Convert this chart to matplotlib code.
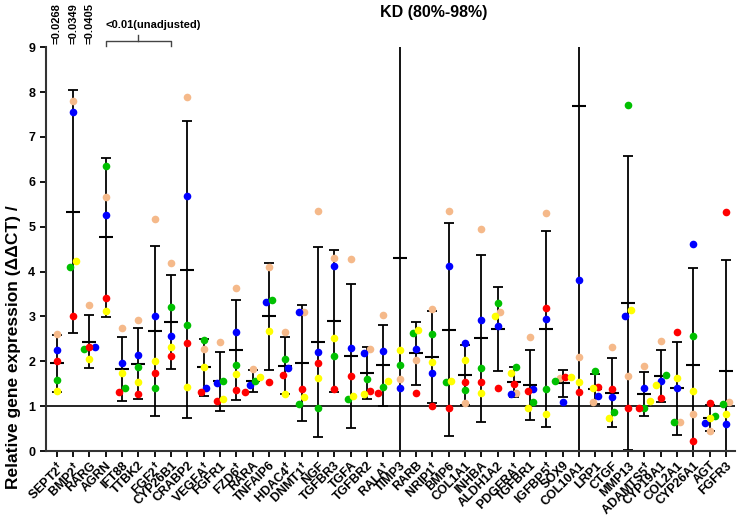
import numpy as np
import matplotlib
matplotlib.use("Agg")
from matplotlib import pyplot as plt
from matplotlib import transforms

plt.rcParams["font.family"] = ["Liberation Sans", "DejaVu Sans"]
plt.rcParams["font.weight"] = "bold"

genes = ["SEPT2", "BMP2", "RARG", "AGRN", "IFT88", "TTBK2", "FGF2", "CYP26B1",
         "CRABP2", "VEGFA", "FGFR1", "FZD6", "RARA", "TNFAIP6", "HDAC4", "DNMT1",
         "NGF", "TGFBR3", "TGFA", "TGFBR2", "RALA", "TIMP3", "RARB", "NRIP1",
         "BMP6", "COL1A1", "INHBA", "ALDH1A2", "PDGFRA", "TGFBR1", "IGFBP5", "SOX9",
         "COL10A1", "LRP1", "CTGF", "MMP13", "ADAMTS5", "CYP19A1", "COL2A1",
         "CYP26A1", "AGT", "FGFR3"]
dagger = ["SEPT2", "BMP2", "FGF2", "VEGFA", "FZD6", "HDAC4", "DNMT1", "RALA",
          "NRIP1", "PDGFRA", "IGFBP5", "ADAMTS5"]

# one value per donor / sample
peach = [2.62, 7.79, 3.26, 5.67, 2.75, 2.92, 5.18, 4.19, 7.88, 2.28, 2.43, 3.63,
         1.84, 4.10, 2.66, 3.10, 5.36, 4.31, 4.29, 2.27, 3.04, 1.61, 2.04, 3.16,
         5.34, 1.08, 4.94, 3.11, 1.30, 2.55, 5.31, 1.62, 2.09, 1.09, 2.31, 1.68,
         1.90, 2.45, 0.66, 0.83, 0.45, 1.09]
blue = [2.26, 7.55, 2.31, 5.25, 1.96, 2.14, 3.02, 2.57, 5.69, 1.41, 1.51, 2.66,
        1.47, 3.33, 1.85, 3.10, 2.20, 4.12, 2.29, 2.18, 2.23, 1.40, 2.27, 1.74,
        4.13, 2.42, 2.93, 2.79, 1.28, 1.39, 2.95, 1.09, 3.82, 1.22, 1.21, 3.00,
        1.40, 1.56, 1.41, 4.61, 0.62, 0.60]
green = [1.58, 4.11, 2.27, 6.35, 1.41, 1.87, 1.41, 3.21, 2.81, 2.47, 1.57, 1.91,
         1.56, 3.37, 2.06, 1.06, 0.97, 2.13, 1.16, 1.60, 1.44, 1.91, 2.63, 2.60,
         1.53, 1.37, 1.86, 3.30, 1.88, 1.09, 1.38, 1.57, 29.7, 1.79, 0.87, 7.72,
         0.97, 1.70, 0.64, 2.57, 0.78, 1.06]
red = [2.00, 3.00, 2.31, 3.42, 1.32, 1.27, 1.75, 2.11, 2.40, 1.32, 1.11, 1.36,
       1.31, 1.54, 1.70, 1.38, 1.97, 1.39, 1.67, 1.35, 1.30, 14.3, 1.29, 1.01,
       0.97, 1.55, 1.55, 1.41, 1.49, 1.35, 3.18, 1.65, 1.31, 1.44, 1.38, 0.97,
       0.97, 1.18, 2.65, 0.22, 1.07, 5.33]
yellow = [1.35, 4.23, 2.06, 3.12, 1.75, 1.53, 2.00, 2.32, 1.44, 1.88, 1.16, 1.71,
          1.66, 2.68, 1.27, 1.21, 1.64, 2.52, 1.22, 1.28, 1.56, 2.25, 2.69, 1.99,
          1.57, 2.04, 1.29, 3.00, 1.75, 0.97, 0.82, 1.66, 1.53, 1.41, 0.74, 3.15,
          1.12, 1.48, 1.63, 1.35, 0.75, 0.82]

series = [(peach, "#F5B98A"), (blue, "#0000FF"), (green, "#00C000"),
          (red, "#FF0000"), (yellow, "#FFFF00")]

p_values = ["=0.0268", "=0.0349", "=0.0405"]
bracket_text = "<0.01(unadjusted)"
title = "KD (80%-98%)"
ylabel = "Relative gene expression (\u0394\u0394CT) /"

T_975_DF4 = 2.776


def dodge(vals, thr=0.16, step=0.32):
    order = np.argsort(vals)
    offs = np.zeros(len(vals))
    groups = [[order[0]]]
    for a, b in zip(order[:-1], order[1:]):
        if vals[b] - vals[a] < thr:
            groups[-1].append(b)
        else:
            groups.append([b])
    for g in groups:
        k = len(g)
        for j, idx in enumerate(g):
            offs[idx] = (j - (k - 1) / 2) * step
    return offs


fig = plt.figure(figsize=(7.38, 5.18), dpi=100)
ax = fig.add_axes([0.062, 0.129, 0.934, 0.78])

data = np.array([s for s, _ in series])  # shape (5, n_genes)
x = np.arange(len(genes))
n = data.shape[0]
mean = data.mean(axis=0)
ci = T_975_DF4 * data.std(axis=0, ddof=1) / np.sqrt(n)

ax.errorbar(x, mean, yerr=ci, fmt="none", ecolor="black", elinewidth=1.3,
            capsize=3.5, capthick=1.3, zorder=2)
ax.plot(x, mean, linestyle="none", marker="_", markersize=10,
        markeredgewidth=1.5, color="black", zorder=2)

offsets = np.array([dodge(data[:, i]) for i in range(len(genes))]).T
for k, (vals, col) in enumerate(series):
    ax.plot(x + offsets[k], vals, linestyle="none", marker="o", markersize=5.5,
            markeredgewidth=0, color=col, zorder=3)

ax.axhline(1, color="black", linewidth=1.2, zorder=1)

ax.set_xlim(-0.67, 41.55)
ax.set_ylim(0, 9)
ax.set_yticks(range(0, 10))
ax.set_xticks(x)
labels = [g + ("$^{\\dagger}$" if g in dagger else "") for g in genes]
ax.set_xticklabels(labels, rotation=45, ha="right", rotation_mode="anchor",
                   fontsize=9, fontweight="bold")
ax.tick_params(axis="y", labelsize=9, width=1.3, length=4)
ax.tick_params(axis="x", width=1.3, length=4, pad=2)
for lab in ax.get_yticklabels():
    lab.set_fontweight("bold")
for side in ["top", "right"]:
    ax.spines[side].set_visible(False)
for side in ["left", "bottom"]:
    ax.spines[side].set_linewidth(1.5)
    ax.spines[side].set_color("#333333")

fig.text(0.018, 0.33, ylabel, rotation=90, ha="center", va="center",
         fontsize=12.5, fontweight="bold")
fig.text(0.587, 0.975, title, ha="center", va="center", fontsize=11.5,
         fontweight="bold")

trans = transforms.blended_transform_factory(ax.transData, fig.transFigure)
for i, p in enumerate(p_values):
    ax.text(i, 0.915, p, rotation=90, ha="center", va="bottom", fontsize=8,
            fontweight="bold", transform=trans, clip_on=False)

bx0, bx1 = 3, 7
bmid = (bx0 + bx1) / 2
ax.plot([bx0, bx0, bx1, bx1], [0.911, 0.921, 0.921, 0.911], color="#444444",
        linewidth=1.0, transform=trans, clip_on=False)
ax.plot([bmid, bmid], [0.921, 0.932], color="#444444", linewidth=1.0,
        transform=trans, clip_on=False)
ax.text(5.9, 0.952, bracket_text, ha="center", va="center", fontsize=8,
        fontweight="bold", transform=trans, clip_on=False)

fig.savefig("out.png", dpi=100, facecolor="white")
